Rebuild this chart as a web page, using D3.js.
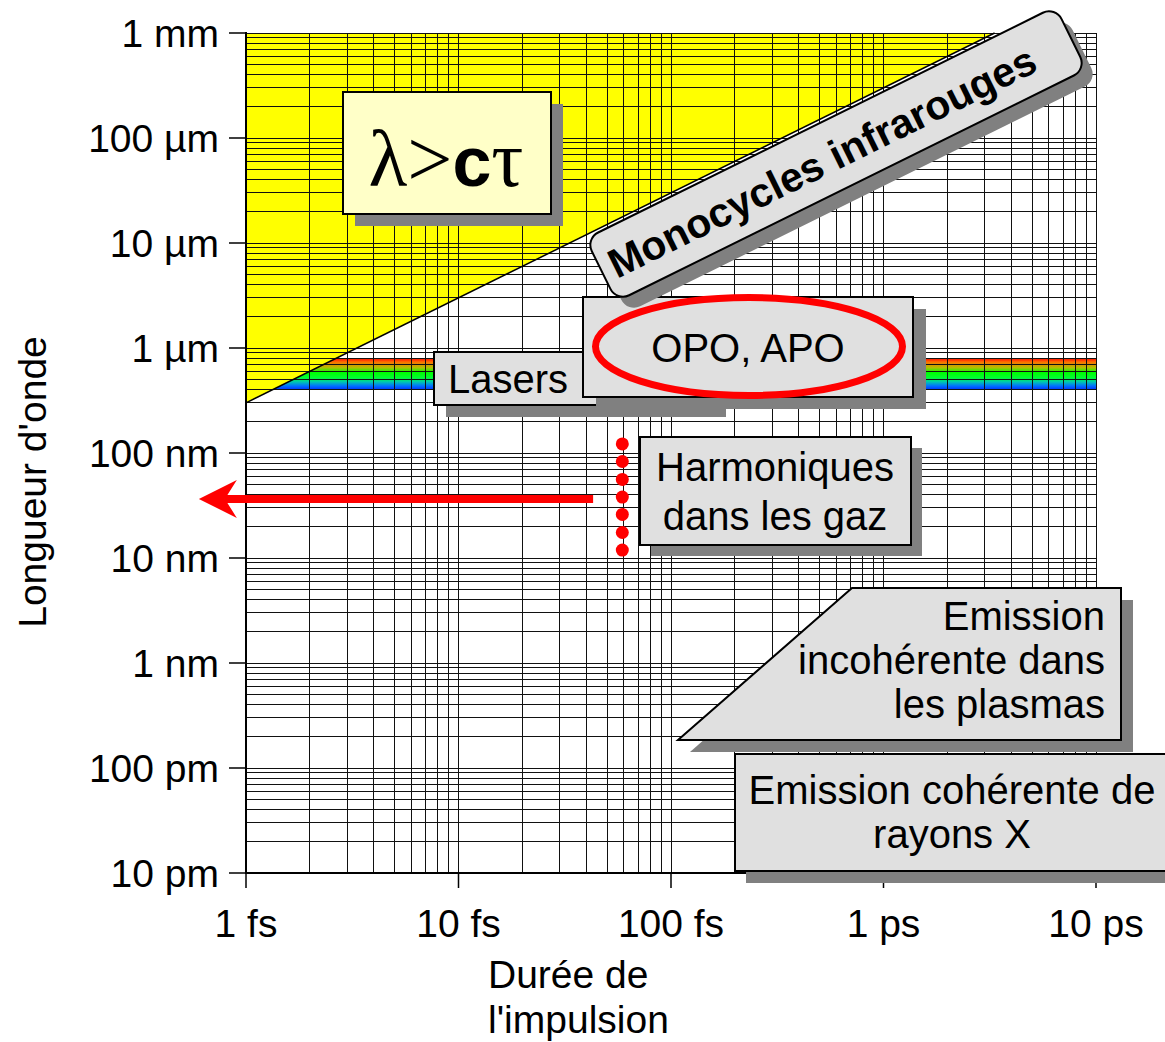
<!DOCTYPE html>
<html lang="fr">
<head>
<meta charset="UTF-8">
<title>Longueur d'onde / durée de l'impulsion</title>
<style>
  body { margin: 0; background: #fff; }
  svg text { font-family: "Liberation Sans", Arial, sans-serif; fill: #000; }
</style>
</head>
<body>
<div id="chart"></div>
<script src="https://d3js.org/d3.v7.min.js"></script>
<script>
// axis ticks
const durationTicks = [1e-15, 1e-14, 1e-13, 1e-12, 1e-11];
const durationLabels = ["1 fs", "10 fs", "100 fs", "1 ps", "10 ps"];
const wavelengthTicks = [1e-11, 1e-10, 1e-9, 1e-8, 1e-7, 1e-6, 1e-5, 1e-4, 1e-3];
const wavelengthLabels = ["10 pm", "100 pm", "1 nm", "10 nm", "100 nm", "1 µm", "10 µm", "100 µm", "1 mm"];

// physics bits
const lightSpeed = 3e8;                 // lambda = c * tau boundary
const laserBand = [400e-9, 800e-9];     // visible laser band
const harmonicDuration = 59e-15;
const harmonicWavelengths = [122e-9, 83e-9, 56e-9, 38e-9, 26e-9, 17.5e-9, 11.9e-9];
const arrowWavelength = 36.5e-9;
const arrowDuration = [43e-15, 0.6e-15];  // from, to

const W = 1165, H = 1042;
const svg = d3.select('#chart').append('svg')
    .attr('width', W).attr('height', H);

const x = d3.scaleLog().domain([1e-15, 1e-11]).range([246, 1096]);
const y = d3.scaleLog().domain([1e-11, 1e-3]).range([873, 33]);

// gradient for laser band
const defs = svg.append('defs');
const grad = defs.append('linearGradient').attr('id', 'spectrum')
    .attr('x1', 0).attr('y1', 0).attr('x2', 0).attr('y2', 1);
[[0, '#ff0000'], [0.12, '#ff7000'], [0.3, '#b0c000'], [0.45, '#00ff00'],
 [0.62, '#00ff30'], [0.75, '#00c8b0'], [0.88, '#0070ff'], [1, '#0030ff']]
  .forEach(s => grad.append('stop').attr('offset', s[0]).attr('stop-color', s[1]));

// laser band
svg.append('rect')
    .attr('x', x(1e-15)).attr('width', x(1e-11) - x(1e-15))
    .attr('y', y(laserBand[1])).attr('height', y(laserBand[0]) - y(laserBand[1]))
    .attr('fill', 'url(#spectrum)');

// yellow region lambda > c tau
const tri = [[1e-15, 1e-3], [1e-15, lightSpeed * 1e-15], [1e-3 / lightSpeed, 1e-3]];
svg.append('polygon')
    .attr('points', tri.map(p => [x(p[0]), y(p[1])].join(',')).join(' '))
    .attr('fill', '#ffff00');

// log grid
function minors(lo, hi) {
    const out = [];
    for (let e = Math.round(Math.log10(lo)); e < Math.round(Math.log10(hi)); e++)
        for (let k = 1; k < 10; k++) out.push(k * Math.pow(10, e));
    out.push(hi);
    return out;
}
const grid = svg.append('g').attr('stroke', '#111').attr('stroke-width', 1)
    .attr('shape-rendering', 'crispEdges');
grid.selectAll('.vx').data(minors(1e-15, 1e-11)).enter().append('line')
    .attr('x1', d => x(d)).attr('x2', d => x(d)).attr('y1', 33).attr('y2', 873);
grid.selectAll('.hy').data(minors(1e-11, 1e-3)).enter().append('line')
    .attr('y1', d => y(d)).attr('y2', d => y(d)).attr('x1', 246).attr('x2', 1096);

// diagonal boundary
svg.append('line')
    .attr('x1', x(tri[1][0])).attr('y1', y(tri[1][1]))
    .attr('x2', x(tri[2][0])).attr('y2', y(tri[2][1]))
    .attr('stroke', '#000').attr('stroke-width', 1.5);

// axes
svg.append('line').attr('x1', 246).attr('x2', 246).attr('y1', 32).attr('y2', 874)
    .attr('stroke', '#000').attr('stroke-width', 2);
svg.append('line').attr('x1', 245).attr('x2', 1097).attr('y1', 873).attr('y2', 873)
    .attr('stroke', '#000').attr('stroke-width', 2);

svg.selectAll('.ytick').data(wavelengthTicks).enter().append('line')
    .attr('x1', 229).attr('x2', 246).attr('y1', d => y(d)).attr('y2', d => y(d))
    .attr('stroke', '#000').attr('stroke-width', 1.5);
svg.selectAll('.ylab').data(wavelengthTicks).enter().append('text')
    .attr('x', 219).attr('y', d => y(d) + 14)
    .attr('text-anchor', 'end').attr('font-size', 39)
    .text((d, i) => wavelengthLabels[i]);

svg.selectAll('.xtick').data(durationTicks).enter().append('line')
    .attr('x1', d => x(d)).attr('x2', d => x(d)).attr('y1', 873).attr('y2', 888)
    .attr('stroke', '#000').attr('stroke-width', 1.5);
svg.selectAll('.xlab').data(durationTicks).enter().append('text')
    .attr('x', d => x(d)).attr('y', 937)
    .attr('text-anchor', 'middle').attr('font-size', 39)
    .text((d, i) => durationLabels[i]);

// axis titles
svg.append('text').attr('x', 488).attr('y', 988).attr('font-size', 39).text('Durée de');
svg.append('text').attr('x', 488).attr('y', 1033).attr('font-size', 39).text("l'impulsion");
svg.append('text').attr('transform', 'translate(46,482) rotate(-90)')
    .attr('text-anchor', 'middle').attr('font-size', 39).text("Longueur d'onde");

// boxes with drop shadow
function box(x0, y0, w, h, fill, dx, dy) {
    svg.append('rect').attr('x', x0 + dx).attr('y', y0 + dy).attr('width', w).attr('height', h)
        .attr('fill', '#808080');
    svg.append('rect').attr('x', x0).attr('y', y0).attr('width', w).attr('height', h)
        .attr('fill', fill).attr('stroke', '#000').attr('stroke-width', 2);
}

// lambda > c tau
box(343, 92, 208, 122, '#ffffc8', 12, 12);
const lt = svg.append('text').attr('x', 446).attr('y', 186).attr('text-anchor', 'middle');
lt.append('tspan').attr('font-family', '"Liberation Serif", "Times New Roman", serif').attr('font-size', 80).text('λ>');
lt.append('tspan').attr('font-weight', 'bold').attr('font-size', 70).text('c');
lt.append('tspan').attr('font-family', '"Liberation Serif", "Times New Roman", serif').attr('font-size', 80).text('τ');

// Lasers
box(434, 352, 280, 53, '#e0e0e0', 12, 12);
svg.append('text').attr('x', 448).attr('y', 393).attr('font-size', 40).text('Lasers');

// OPO, APO
box(583, 297, 330, 100, '#e0e0e0', 13, 12);
svg.append('ellipse').attr('cx', 749).attr('cy', 346.5).attr('rx', 153.5).attr('ry', 49)
    .attr('fill', 'none').attr('stroke', '#ff0000').attr('stroke-width', 7);
svg.append('text').attr('x', 748).attr('y', 362).attr('text-anchor', 'middle')
    .attr('font-size', 40).text('OPO, APO');

// Monocycles infrarouges (rotated along the diagonal)
const ang = -Math.atan((y(tri[1][1]) - y(tri[2][1])) / (x(tri[2][0]) - x(tri[1][0]))) * 180 / Math.PI;
const mw = 524, mh = 70;
svg.append('rect').attr('transform', `translate(847,165) rotate(${ang})`)
    .attr('x', -mw / 2).attr('y', -mh / 2).attr('width', mw).attr('height', mh)
    .attr('rx', 14).attr('fill', '#808080');
const mono = svg.append('g').attr('transform', `translate(836,154) rotate(${ang})`);
mono.append('rect').attr('x', -mw / 2).attr('y', -mh / 2).attr('width', mw).attr('height', mh)
    .attr('rx', 14).attr('fill', '#e0e0e0').attr('stroke', '#000').attr('stroke-width', 2);
mono.append('text').attr('x', -16).attr('y', 15).attr('text-anchor', 'middle')
    .attr('font-size', 41).attr('font-weight', 'bold').text('Monocycles infrarouges');

// Harmoniques
box(640, 437, 271, 108, '#e0e0e0', 11, 11);
svg.append('text').attr('x', 775).attr('y', 481).attr('text-anchor', 'middle')
    .attr('font-size', 40).text('Harmoniques');
svg.append('text').attr('x', 775).attr('y', 530).attr('text-anchor', 'middle')
    .attr('font-size', 40).text('dans les gaz');

svg.selectAll('.harm').data(harmonicWavelengths).enter().append('circle')
    .attr('cx', x(harmonicDuration)).attr('cy', d => y(d)).attr('r', 6.5)
    .attr('fill', '#ff0000');

// red arrow
const ay = y(arrowWavelength), ax0 = x(arrowDuration[0]), ax1 = x(arrowDuration[1]);
svg.append('line').attr('x1', ax0).attr('x2', ax1 + 26).attr('y1', ay).attr('y2', ay)
    .attr('stroke', '#ff0000').attr('stroke-width', 8);
svg.append('polygon')
    .attr('points', [[ax1, ay], [ax1 + 38, ay - 19], [ax1 + 26, ay], [ax1 + 38, ay + 19]].join(' '))
    .attr('fill', '#ff0000');

// Emission incoherente (trapezoid)
const trap = [[852, 588], [1121, 588], [1121, 740], [678, 740]];
svg.append('polygon').attr('points', trap.map(p => [p[0] + 12, p[1] + 12]).join(' '))
    .attr('fill', '#808080');
svg.append('polygon').attr('points', trap.join(' '))
    .attr('fill', '#e0e0e0').attr('stroke', '#000').attr('stroke-width', 2);
['Emission', 'incohérente dans', 'les plasmas'].forEach((t, i) => {
    svg.append('text').attr('x', 1105).attr('y', 630 + i * 44).attr('text-anchor', 'end')
        .attr('font-size', 40).text(t);
});

// Emission coherente
box(735, 754, 440, 117, '#e0e0e0', 11, 12);
svg.append('text').attr('x', 952).attr('y', 804).attr('text-anchor', 'middle')
    .attr('font-size', 40).text('Emission cohérente de');
svg.append('text').attr('x', 952).attr('y', 848).attr('text-anchor', 'middle')
    .attr('font-size', 40).text('rayons X');
</script>
</body>
</html>
